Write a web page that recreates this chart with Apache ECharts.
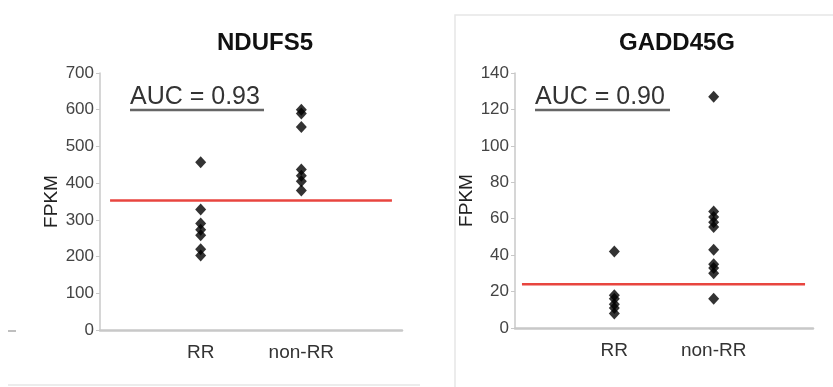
<!DOCTYPE html>
<html>
<head>
<meta charset="utf-8">
<script src="https://cdn.jsdelivr.net/npm/echarts@6/dist/echarts.min.js"></script>
<style>html,body{margin:0;padding:0;background:#fff}#c{width:833px;height:387px}</style>
</head>
<body>
<div id="c"></div>
<script>
var categories = ['RR', 'non-RR'];
var titles = ['NDUFS5', 'GADD45G'];
var aucLabels = ['AUC = 0.93', 'AUC = 0.90'];
var ndufs5RR = [457, 328, 290, 273, 258, 220, 203];
var ndufs5NonRR = [600, 590, 553, 437, 420, 405, 380];
var gadd45gRR = [42, 18, 16, 13, 11, 8];
var gadd45gNonRR = [127, 64, 61, 58, 55.5, 43, 35, 33, 30, 16];
var cutoffs = [353, 24];
var yMax = [700, 140];
var yStep = [100, 20];

var chart = echarts.init(document.getElementById('c'), null, {renderer: 'canvas'});
var FONT = 'Liberation Sans, Arial, sans-serif';

function pts(vals, xi) { return vals.map(function (v) { return [xi, v]; }); }

var grids = [
  {left: 100, right: 431, top: 73, bottom: 57},
  {left: 515, right: 20, top: 73, bottom: 59}
];
var xAxes = [], yAxes = [], series = [];
var groups = [[ndufs5RR, ndufs5NonRR], [gadd45gRR, gadd45gNonRR]];
var lineExt = [[0.1, 2.9], [0.07, 2.92]];
for (var i = 0; i < 2; i++) {
  xAxes.push({
    type: 'value', gridIndex: i, min: 0, max: 3, interval: 1,
    axisLine: {show: true, lineStyle: {color: '#c8c8c8', width: 2.5}},
    axisTick: {show: false}, splitLine: {show: false},
    axisLabel: {
      color: '#333', fontSize: 19, fontFamily: FONT, margin: 13,
      formatter: function (v) { return v >= 1 && v <= 2 ? categories[v - 1] : ''; }
    }
  });
  yAxes.push({
    type: 'value', gridIndex: i, min: 0, max: yMax[i], interval: yStep[i],
    name: 'FPKM', nameLocation: 'middle', nameGap: i === 0 ? 37 : 32, nameRotate: 90,
    nameTextStyle: {color: '#222', fontSize: 19, fontFamily: FONT},
    axisLine: {show: true, lineStyle: {color: '#c8c8c8', width: 1.5}},
    axisTick: {show: true, length: 4, lineStyle: {color: '#c8c8c8'}},
    splitLine: {show: false},
    axisLabel: {color: '#444', fontSize: 17, fontFamily: FONT, margin: 6}
  });
  for (var k = 0; k < 2; k++) {
    series.push({
      type: 'scatter', xAxisIndex: i, yAxisIndex: i, symbol: 'diamond',
      symbolSize: [11, 12], itemStyle: {color: '#000'}, data: pts(groups[i][k], k + 1), z: 3
    });
  }
  series.push({
    type: 'line', xAxisIndex: i, yAxisIndex: i, symbol: 'none', silent: true,
    lineStyle: {color: '#e8453f', width: 2.5},
    data: [[lineExt[i][0], cutoffs[i]], [lineExt[i][1], cutoffs[i]]], z: 2
  });
}

chart.setOption({
  animation: false,
  title: [
    {text: titles[0], left: 260, top: 26, textAlign: 'center',
      textStyle: {fontSize: 24, fontWeight: 'bold', color: '#111', fontFamily: FONT}},
    {text: titles[1], left: 672, top: 26, textAlign: 'center',
      textStyle: {fontSize: 24, fontWeight: 'bold', color: '#111', fontFamily: FONT}}
  ],
  grid: grids, xAxis: xAxes, yAxis: yAxes, series: series,
  graphic: [
    {type: 'rect', shape: {x: 455, y: 15, width: 400, height: 400}, style: {fill: 'none', stroke: '#e6e6e6', lineWidth: 1.5}, z: -1},
    {type: 'line', shape: {x1: 8, y1: 385, x2: 420, y2: 385}, style: {stroke: '#e6e6e6', lineWidth: 1.5}},
    {type: 'line', shape: {x1: 8, y1: 331, x2: 16, y2: 331}, style: {stroke: '#aaa', lineWidth: 1.5}},
    {type: 'text', left: 130, top: 85, style: {text: aucLabels[0], font: '25px ' + FONT, fill: '#333'}},
    {type: 'line', shape: {x1: 130, y1: 110, x2: 264, y2: 110}, style: {stroke: '#666', lineWidth: 2.5}},
    {type: 'text', left: 535, top: 85, style: {text: aucLabels[1], font: '25px ' + FONT, fill: '#333'}},
    {type: 'line', shape: {x1: 535, y1: 110, x2: 670, y2: 110}, style: {stroke: '#666', lineWidth: 2.5}}
  ]
});
</script>
</body>
</html>
